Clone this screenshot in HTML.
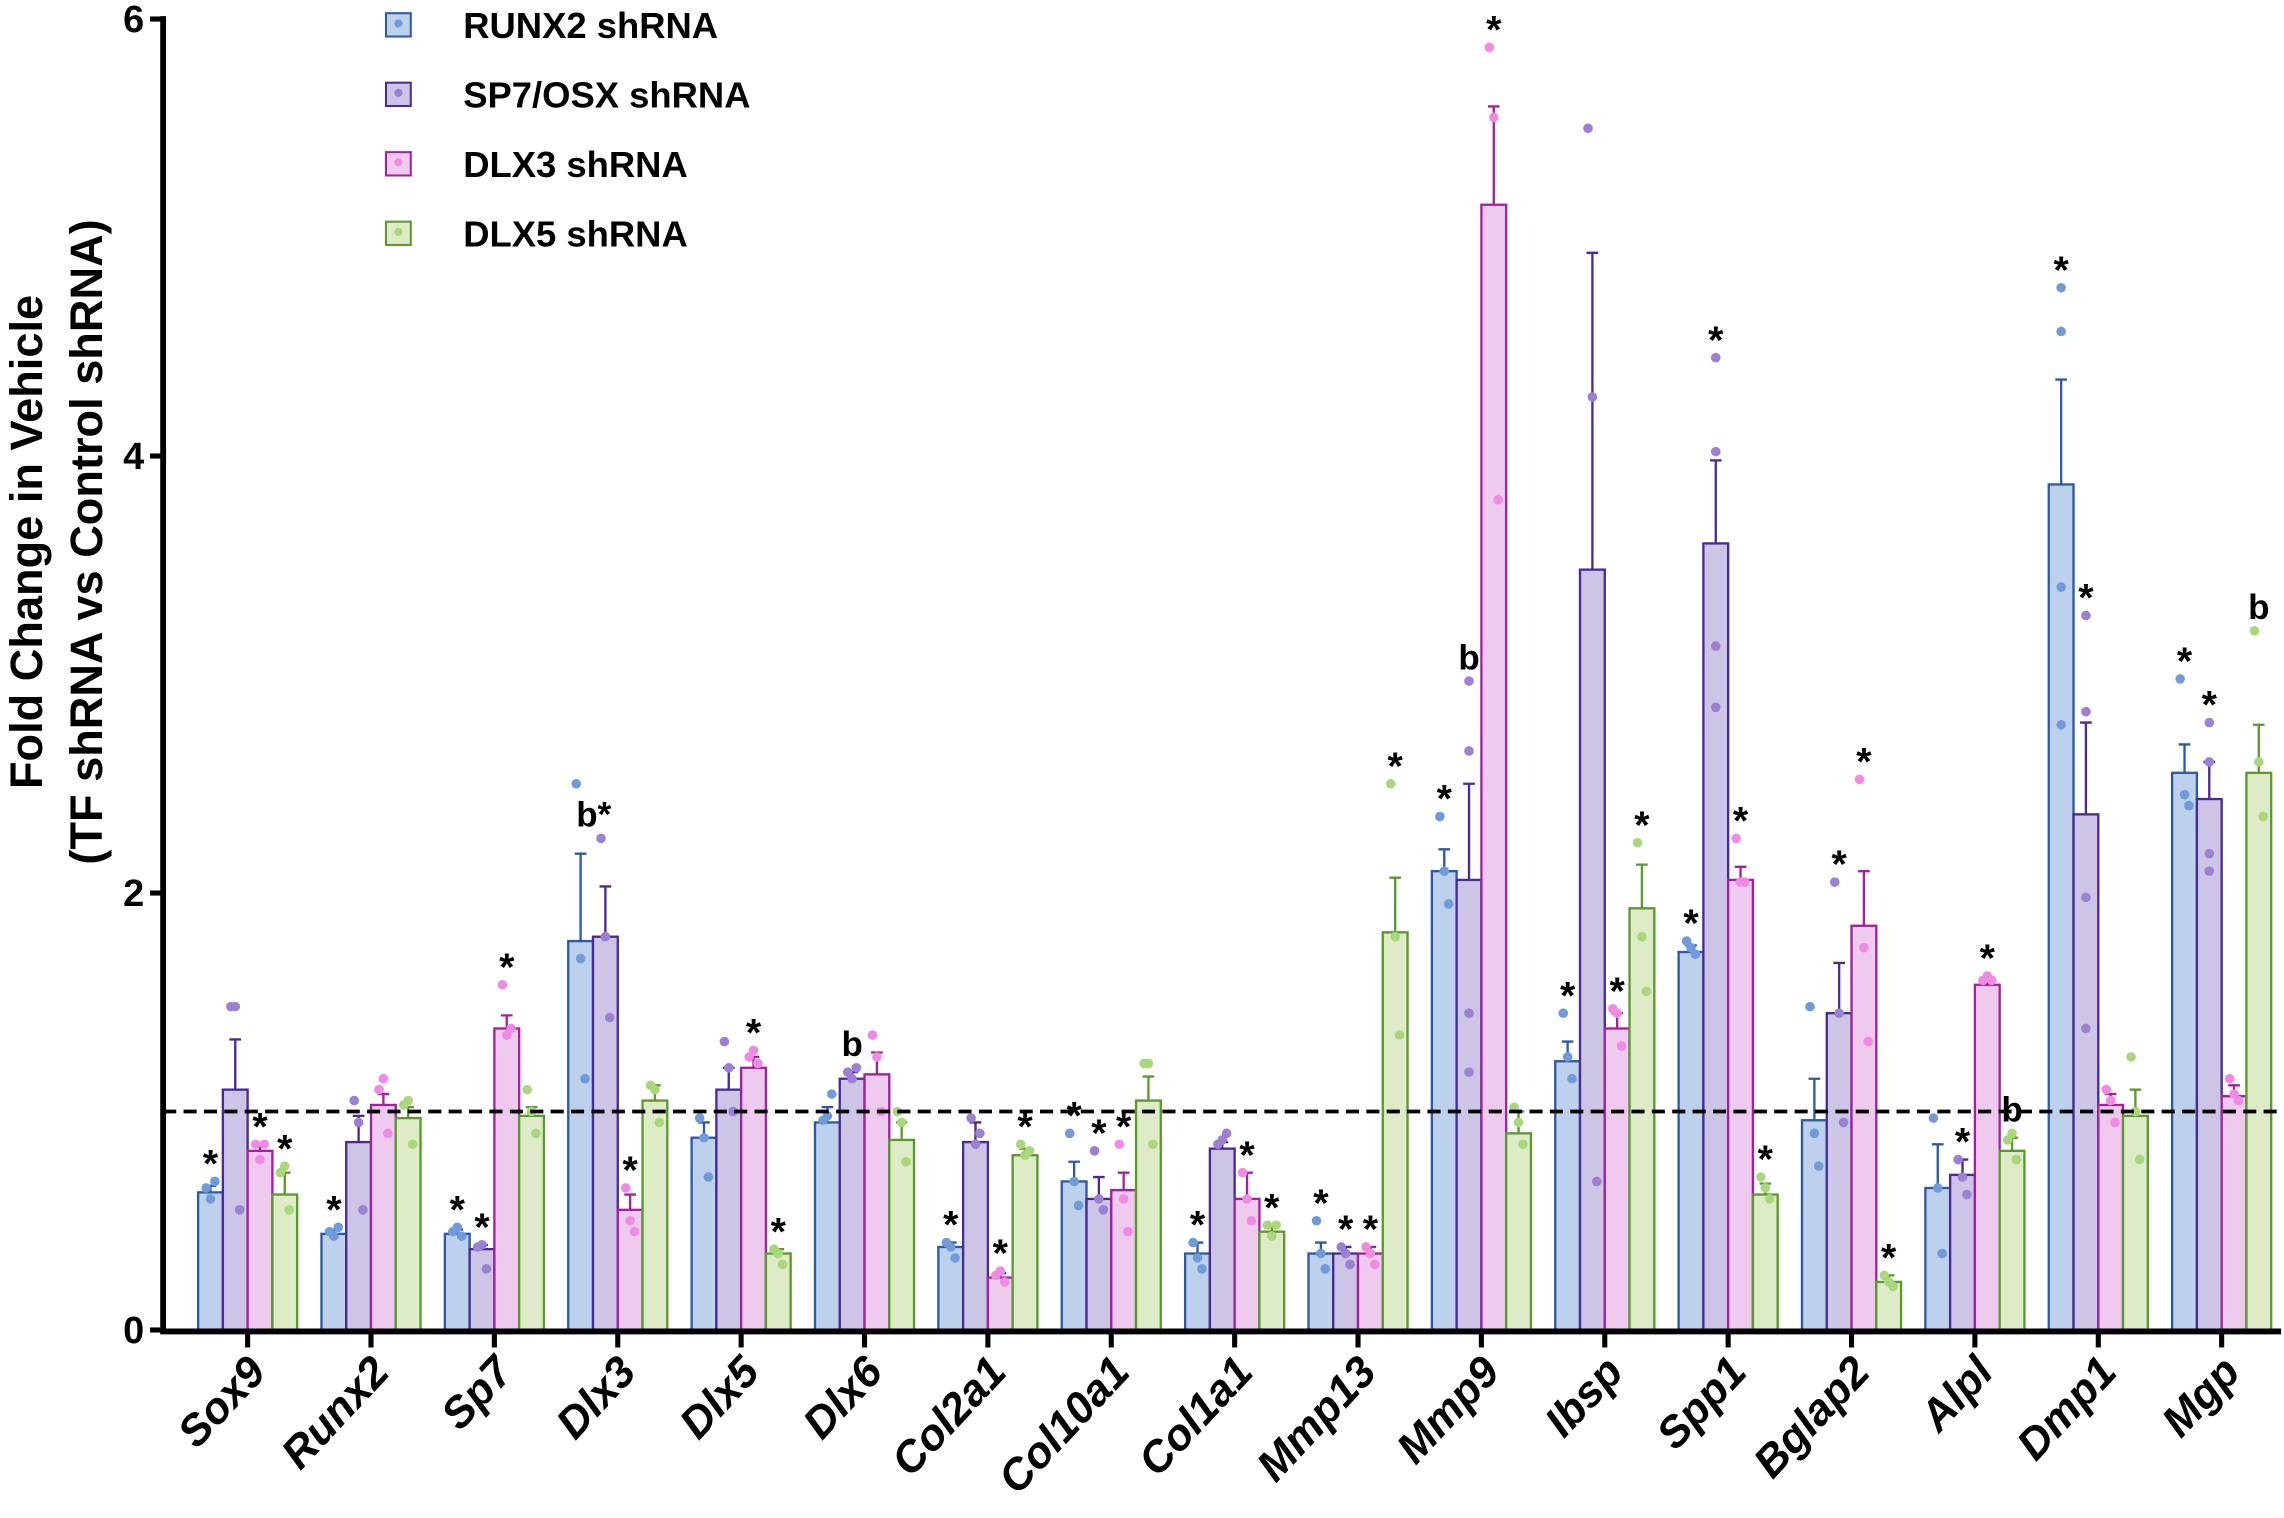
<!DOCTYPE html>
<html><head><meta charset="utf-8"><style>
html,body{margin:0;padding:0;background:#fff}
svg{display:block}
text{font-family:"Liberation Sans",Arial,sans-serif;font-weight:bold}
</style></head><body>
<svg id="chart" width="2284" height="1518" viewBox="0 0 1568 1042" xmlns="http://www.w3.org/2000/svg">
<g id="plot"></g>
</svg>
<script>
const categories=["Sox9","Runx2","Sp7","Dlx3","Dlx5","Dlx6","Col2a1","Col10a1","Col1a1","Mmp13","Mmp9","Ibsp","Spp1","Bglap2","Alpl","Dmp1","Mgp"];
const seriesNames=["RUNX2 shRNA","SP7/OSX shRNA","DLX3 shRNA","DLX5 shRNA"];
const runx2Mean=[0.63,0.44,0.44,1.78,0.88,0.95,0.38,0.68,0.35,0.35,2.1,1.23,1.73,0.96,0.65,3.87,2.55];
const runx2Err=[0.66,0.46,0.46,2.18,0.95,1.02,0.40,0.77,0.40,0.40,2.2,1.32,1.76,1.15,0.85,4.35,2.68];
const runx2Pts=[[0.65,0.6,0.68],[0.45,0.43,0.47],[0.45,0.47,0.43],[2.5,1.7,1.15],[0.97,0.88,0.7],[0.96,0.98,1.08],[0.4,0.38,0.33],[0.9,0.68,0.57],[0.4,0.33,0.28],[0.5,0.35,0.28],[2.35,2.1,1.95],[1.45,1.25,1.15],[1.78,1.75,1.72],[1.48,0.9,0.75],[0.97,0.65,0.35],[4.77,4.57,3.4,2.77],[2.98,2.45,2.4]];
const sp7Mean=[1.1,0.86,0.37,1.8,1.1,1.15,0.86,0.6,0.83,0.35,2.06,3.48,3.6,1.45,0.71,2.36,2.43];
const sp7Err=[1.33,0.98,0.39,2.03,1.2,1.18,0.95,0.7,0.86,0.38,2.5,4.93,3.98,1.68,0.78,2.78,2.6];
const sp7Pts=[[1.48,1.48,0.55],[1.05,0.95,0.55],[0.38,0.39,0.28],[2.25,1.8,1.43],[1.32,1.2,1.0],[1.18,1.15,1.2],[0.97,0.85,0.9],[0.82,0.6,0.55],[0.85,0.87,0.9],[0.38,0.35,0.3],[2.97,2.65,1.45,1.18],[5.5,4.27,0.68],[4.45,4.02,3.13,2.85],[2.05,1.45,0.95],[0.78,0.7,0.62],[3.27,2.83,1.98,1.38],[2.78,2.6,2.18,2.1]];
const dlx3Mean=[0.82,1.03,1.38,0.55,1.2,1.17,0.24,0.64,0.6,0.35,5.15,1.38,2.06,1.85,1.58,1.03,1.07];
const dlx3Err=[0.85,1.08,1.44,0.62,1.25,1.27,0.26,0.72,0.72,0.38,5.6,1.45,2.12,2.1,1.61,1.08,1.12];
const dlx3Pts=[[0.85,0.78,0.85],[1.1,1.15,0.9],[1.58,1.35,1.38],[0.65,0.5,0.45],[1.25,1.28,1.22],[1.35,1.25,1.0],[0.25,0.27,0.22],[0.85,0.6,0.45],[0.72,0.6,0.5],[0.38,0.35,0.3],[5.87,5.55,3.8],[1.47,1.45,1.3],[2.25,2.05,2.05],[2.52,1.75,1.32],[1.6,1.62,1.6],[1.1,1.05,0.95],[1.15,1.08,1.05]];
const dlx5Mean=[0.62,0.97,0.98,1.05,0.35,0.87,0.8,1.05,0.45,1.82,0.9,1.93,0.62,0.22,0.82,0.98,2.55];
const dlx5Err=[0.72,1.02,1.02,1.12,0.37,0.95,0.83,1.16,0.48,2.07,1.0,2.13,0.67,0.25,0.88,1.1,2.77];
const dlx5Pts=[[0.72,0.75,0.55],[1.03,1.05,0.85],[1.1,1.0,0.9],[1.12,1.1,0.95],[0.37,0.35,0.3],[1.0,0.95,0.77],[0.85,0.8,0.82],[1.22,1.22,0.85],[0.48,0.43,0.48],[2.5,1.8,1.35],[1.02,0.95,0.85],[2.23,1.8,1.55],[0.7,0.65,0.6],[0.25,0.22,0.2],[0.87,0.9,0.78],[1.25,1.0,0.78],[3.2,2.6,2.35]];
const runx2Ann=["*","*","*","","","","*","*","*","*","*","*","*","","","*","*"];
const sp7Ann=["","","*","b*","","b","","*","","*","b","","*","*","*","*","*"];
const dlx3Ann=["*","","*","*","*","","*","*","*","*","*","*","*","*","*","",""];
const dlx5Ann=["*","","","","*","","*","","*","*","","*","*","*","b","","b"];
const yTicks=[0,2,4,6];

const fills=["#bdd0ec","#cdc5e6","#efcaef","#ddebc6"];
const strokes=["#2d5aa6","#4a2a96","#a3209f","#5a9a2c"];
const dots=["#6f9bdb","#9c80d2","#f08ae2","#a9d77c"];
const means=[runx2Mean,sp7Mean,dlx3Mean,dlx5Mean];
const errs=[runx2Err,sp7Err,dlx3Err,dlx5Err];
const pts=[runx2Pts,sp7Pts,dlx3Pts,dlx5Pts];
const anns=[runx2Ann,sp7Ann,dlx3Ann,dlx5Ann];

const NS="http://www.w3.org/2000/svg";
const g=document.getElementById('plot');
const y0=913,pxPerUnit=150,xLeft=112,xRight=1566;
const yScale=v=>y0-v*pxPerUnit;
const groupW=84.7,x0c=170,barW=17;
const xCenter=i=>x0c+i*groupW;
const xBar=(i,s)=>xCenter(i)-2*barW+s*barW;
function mk(tag,attrs,parent){const e=document.createElementNS(NS,tag);for(const k in attrs)e.setAttribute(k,attrs[k]);(parent||g).appendChild(e);return e;}

for(let s=0;s<4;s++){
  const sg=mk('g',{});
  
  
  categories.forEach((c,i)=>{
    const x=xBar(i,s),m=means[s][i],e=errs[s][i];
    const r=mk('rect',{x:x,y:yScale(m),width:barW,height:y0-yScale(m),fill:fills[s],stroke:strokes[s],'stroke-width':1.6},sg);
    
    
    const cx=x+barW/2;
    const el=mk('path',{d:`M${cx},${yScale(m)}V${yScale(e)}M${cx-4},${yScale(e)}H${cx+4}`,stroke:strokes[s],'stroke-width':1.6,fill:'none'},sg);
    
    
    let mx=e;
    pts[s][i].forEach((p,k)=>{
      mx=Math.max(mx,p);
      const off=pts[s][i].length>3?0:(k-1)*3;
      const d=mk('circle',{cx:cx+off,cy:yScale(p),r:3.3,fill:dots[s]},sg);
      
      
    });
    const a=anns[s][i];
    if(a){
      const ax=a==='b*'?cx-8:cx;
      const t=mk('text',{x:ax,y:yScale(mx)-(a[0]==='b'?8:3),'text-anchor':'middle','font-size':a[0]==='b'?24:27},sg);
      t.textContent=a;
      
      
    }
  });
}
const dl=mk('line',{x1:xLeft,x2:xRight,y1:yScale(1),y2:yScale(1),stroke:'#000','stroke-width':2.5,'stroke-dasharray':'9,5'});


const ya=mk('line',{x1:xLeft,x2:xLeft,y1:yScale(6)-2,y2:y0+2,stroke:'#000','stroke-width':4});


const xa=mk('line',{x1:xLeft-2,x2:xRight,y1:y0+1,y2:y0+1,stroke:'#000','stroke-width':4});


yTicks.forEach(v=>{
  const tk=mk('line',{x1:xLeft-9,x2:xLeft,y1:yScale(v),y2:yScale(v),stroke:'#000','stroke-width':3.5});
  
  
  const t=mk('text',{x:xLeft-13,y:yScale(v)+9,'text-anchor':'end','font-size':26});
  t.textContent=v;
  
  
});
categories.forEach((c,i)=>{
  const cx=xCenter(i);
  const tk=mk('line',{x1:cx,x2:cx,y1:y0,y2:y0+12,stroke:'#000','stroke-width':3.5});
  
  
  const tx=cx+14,ty=y0+30;
  const t=mk('text',{x:tx,y:ty,'text-anchor':'end','font-size':30,'font-style':'italic',transform:`rotate(-47 ${tx} ${ty})`});
  t.textContent=c;
  
  
});
const yt=mk('text',{transform:'translate(29,372) rotate(-90)','text-anchor':'middle','font-size':31});
yt.textContent='Fold Change in Vehicle';


const yt2=mk('text',{transform:'translate(70,372) rotate(-90)','text-anchor':'middle','font-size':31});
yt2.textContent='(TF shRNA vs Control shRNA)';


seriesNames.forEach((n,s)=>{
  const ly=17+s*47.7;
  const lg=mk('g',{});
  
  
  mk('rect',{x:265,y:ly-8,width:17,height:16,fill:fills[s],stroke:strokes[s],'stroke-width':1.4},lg);
  mk('circle',{cx:273.5,cy:ly-1,r:2.8,fill:dots[s]},lg);
  const t=mk('text',{x:318,y:ly+9,'font-size':25},lg);
  t.textContent=n;
});
</script>
</body></html>
